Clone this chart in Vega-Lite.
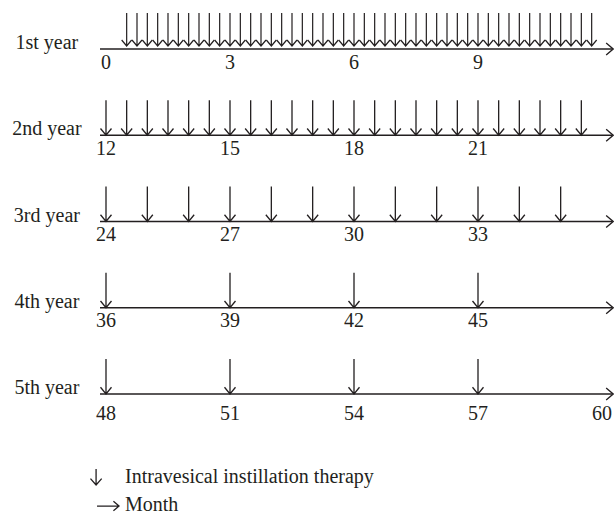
{
  "$schema": "https://vega.github.io/schema/vega-lite/v6.json",
  "width": 614,
  "height": 518,
  "autosize": "none",
  "padding": 0,
  "background": "white",
  "config": {"view": {"stroke": null}, "text": {"font": "Liberation Serif", "fontSize": 20, "color": "#231f20"}},
  "datasets": {
    "rows": [
      {"row": 1, "name": "1st year"},
      {"row": 2, "name": "2nd year"},
      {"row": 3, "name": "3rd year"},
      {"row": 4, "name": "4th year"},
      {"row": 5, "name": "5th year"}
    ],
    "arrows": [
      {"row": 1, "m": 0.5}, {"row": 1, "m": 0.75}, {"row": 1, "m": 1}, {"row": 1, "m": 1.25},
      {"row": 1, "m": 1.5}, {"row": 1, "m": 1.75}, {"row": 1, "m": 2}, {"row": 1, "m": 2.25},
      {"row": 1, "m": 2.5}, {"row": 1, "m": 2.75}, {"row": 1, "m": 3}, {"row": 1, "m": 3.25},
      {"row": 1, "m": 3.5}, {"row": 1, "m": 3.75}, {"row": 1, "m": 4}, {"row": 1, "m": 4.25},
      {"row": 1, "m": 4.5}, {"row": 1, "m": 4.75}, {"row": 1, "m": 5}, {"row": 1, "m": 5.25},
      {"row": 1, "m": 5.5}, {"row": 1, "m": 5.75}, {"row": 1, "m": 6}, {"row": 1, "m": 6.25},
      {"row": 1, "m": 6.5}, {"row": 1, "m": 6.75}, {"row": 1, "m": 7}, {"row": 1, "m": 7.25},
      {"row": 1, "m": 7.5}, {"row": 1, "m": 7.75}, {"row": 1, "m": 8}, {"row": 1, "m": 8.25},
      {"row": 1, "m": 8.5}, {"row": 1, "m": 8.75}, {"row": 1, "m": 9}, {"row": 1, "m": 9.25},
      {"row": 1, "m": 9.5}, {"row": 1, "m": 9.75}, {"row": 1, "m": 10}, {"row": 1, "m": 10.25},
      {"row": 1, "m": 10.5}, {"row": 1, "m": 10.75}, {"row": 1, "m": 11}, {"row": 1, "m": 11.25},
      {"row": 1, "m": 11.5}, {"row": 1, "m": 11.75},
      {"row": 2, "m": 0}, {"row": 2, "m": 0.5}, {"row": 2, "m": 1}, {"row": 2, "m": 1.5},
      {"row": 2, "m": 2}, {"row": 2, "m": 2.5}, {"row": 2, "m": 3}, {"row": 2, "m": 3.5},
      {"row": 2, "m": 4}, {"row": 2, "m": 4.5}, {"row": 2, "m": 5}, {"row": 2, "m": 5.5},
      {"row": 2, "m": 6}, {"row": 2, "m": 6.5}, {"row": 2, "m": 7}, {"row": 2, "m": 7.5},
      {"row": 2, "m": 8}, {"row": 2, "m": 8.5}, {"row": 2, "m": 9}, {"row": 2, "m": 9.5},
      {"row": 2, "m": 10}, {"row": 2, "m": 10.5}, {"row": 2, "m": 11}, {"row": 2, "m": 11.5},
      {"row": 3, "m": 0}, {"row": 3, "m": 1}, {"row": 3, "m": 2}, {"row": 3, "m": 3},
      {"row": 3, "m": 4}, {"row": 3, "m": 5}, {"row": 3, "m": 6}, {"row": 3, "m": 7},
      {"row": 3, "m": 8}, {"row": 3, "m": 9}, {"row": 3, "m": 10}, {"row": 3, "m": 11},
      {"row": 4, "m": 0}, {"row": 4, "m": 3}, {"row": 4, "m": 6}, {"row": 4, "m": 9},
      {"row": 5, "m": 0}, {"row": 5, "m": 3}, {"row": 5, "m": 6}, {"row": 5, "m": 9}
    ],
    "ticks": [
      {"row": 1, "m": 0, "label": "0"}, {"row": 1, "m": 3, "label": "3"}, {"row": 1, "m": 6, "label": "6"}, {"row": 1, "m": 9, "label": "9"},
      {"row": 2, "m": 0, "label": "12"}, {"row": 2, "m": 3, "label": "15"}, {"row": 2, "m": 6, "label": "18"}, {"row": 2, "m": 9, "label": "21"},
      {"row": 3, "m": 0, "label": "24"}, {"row": 3, "m": 3, "label": "27"}, {"row": 3, "m": 6, "label": "30"}, {"row": 3, "m": 9, "label": "33"},
      {"row": 4, "m": 0, "label": "36"}, {"row": 4, "m": 3, "label": "39"}, {"row": 4, "m": 6, "label": "42"}, {"row": 4, "m": 9, "label": "45"},
      {"row": 5, "m": 0, "label": "48"}, {"row": 5, "m": 3, "label": "51"}, {"row": 5, "m": 6, "label": "54"}, {"row": 5, "m": 9, "label": "57"}, {"row": 5, "m": 12, "label": "60"}
    ],
    "legend": [
      {"item": "Intravesical instillation therapy", "kind": "arrow"},
      {"item": "Month", "kind": "month"}
    ]
  },
  "layer": [
    {
      "data": {"name": "rows"},
      "mark": {"type": "rule", "stroke": "#231f20", "strokeWidth": 1.3},
      "encoding": {
        "x": {"datum": -0.145, "type": "quantitative", "scale": {"domain": [0, 12], "range": [106, 602], "nice": false, "zero": false}, "axis": null},
        "x2": {"datum": 12.25},
        "y": {"field": "row", "type": "quantitative", "scale": {"domain": [1, 5], "range": [49, 394], "nice": false, "zero": false}, "axis": null}
      }
    },
    {
      "data": {"name": "rows"},
      "mark": {"type": "point", "shape": "M-1.4,-1.2L0,0L-1.4,1.2", "size": 100, "filled": false, "stroke": "#231f20", "strokeWidth": 1.3, "opacity": 1},
      "encoding": {
        "x": {"datum": 12.27, "type": "quantitative", "scale": {"domain": [0, 12], "range": [106, 602], "nice": false, "zero": false}, "axis": null},
        "y": {"field": "row", "type": "quantitative", "scale": {"domain": [1, 5], "range": [49, 394], "nice": false, "zero": false}, "axis": null}
      }
    },
    {
      "data": {"name": "arrows"},
      "transform": [{"filter": "datum.row > 1"}],
      "mark": {"type": "point", "shape": "M0,-7L0,0M-1.1,-1.35L0,0L1.1,-1.35", "size": 100, "filled": false, "stroke": "#231f20", "strokeWidth": 1.3, "opacity": 1},
      "encoding": {
        "x": {"field": "m", "type": "quantitative", "scale": {"domain": [0, 12], "range": [106, 602], "nice": false, "zero": false}, "axis": null},
        "y": {"field": "row", "type": "quantitative", "scale": {"domain": [1, 5], "range": [49, 394], "nice": false, "zero": false}, "axis": null}
      }
    },
    {
      "data": {"name": "arrows"},
      "transform": [{"filter": "datum.row == 1"}],
      "mark": {"type": "point", "shape": "M0,-6.6L0,0M-1,-1.2L0,0L1,-1.2", "size": 100, "filled": false, "stroke": "#231f20", "strokeWidth": 1.2, "opacity": 1},
      "encoding": {
        "x": {"field": "m", "type": "quantitative", "scale": {"domain": [0, 12], "range": [106, 602], "nice": false, "zero": false}, "axis": null},
        "y": {"field": "row", "type": "quantitative", "scale": {"domain": [1, 5], "range": [49, 394], "nice": false, "zero": false}, "axis": null},
        "yOffset": {"value": -3}
      }
    },
    {
      "data": {"name": "ticks"},
      "transform": [{"filter": "datum.row < 5"}],
      "mark": {"type": "text", "baseline": "alphabetic", "align": "center", "dy": 19.5},
      "encoding": {
        "x": {"field": "m", "type": "quantitative", "scale": {"domain": [0, 12], "range": [106, 602], "nice": false, "zero": false}, "axis": null},
        "y": {"field": "row", "type": "quantitative", "scale": {"domain": [1, 5], "range": [49, 394], "nice": false, "zero": false}, "axis": null},
        "text": {"field": "label"}
      }
    },
    {
      "data": {"name": "ticks"},
      "transform": [{"filter": "datum.row == 5"}],
      "mark": {"type": "text", "baseline": "alphabetic", "align": "center", "dy": 26},
      "encoding": {
        "x": {"field": "m", "type": "quantitative", "scale": {"domain": [0, 12], "range": [106, 602], "nice": false, "zero": false}, "axis": null},
        "y": {"field": "row", "type": "quantitative", "scale": {"domain": [1, 5], "range": [49, 394], "nice": false, "zero": false}, "axis": null},
        "text": {"field": "label"}
      }
    },
    {
      "data": {"name": "rows"},
      "mark": {"type": "text", "baseline": "alphabetic", "align": "center"},
      "encoding": {
        "x": {"datum": -1.43, "type": "quantitative", "scale": {"domain": [0, 12], "range": [106, 602], "nice": false, "zero": false}, "axis": null},
        "y": {"field": "row", "type": "quantitative", "scale": {"domain": [1, 5], "range": [49, 394], "nice": false, "zero": false}, "axis": null},
        "text": {"field": "name"}
      }
    },
    {
      "data": {"name": "legend"},
      "transform": [{"filter": "datum.kind == 'arrow'"}],
      "layer": [
        {
          "mark": {"type": "point", "shape": "M0,-4L0,0M-1.4,-1.6L0,0L1.4,-1.6", "size": 64, "filled": false, "stroke": "#231f20", "strokeWidth": 1.3, "opacity": 1},
          "encoding": {
            "x": {"datum": -0.24, "type": "quantitative", "scale": {"domain": [0, 12], "range": [106, 602], "nice": false, "zero": false}, "axis": null},
            "y": {"datum": 6.055, "type": "quantitative", "scale": {"domain": [1, 5], "range": [49, 394], "nice": false, "zero": false}, "axis": null}
          }
        },
        {
          "mark": {"type": "text", "baseline": "alphabetic", "align": "left"},
          "encoding": {
            "x": {"datum": 0.46, "type": "quantitative", "scale": {"domain": [0, 12], "range": [106, 602], "nice": false, "zero": false}, "axis": null},
            "y": {"datum": 6.032, "type": "quantitative", "scale": {"domain": [1, 5], "range": [49, 394], "nice": false, "zero": false}, "axis": null},
            "text": {"field": "item"}
          }
        }
      ]
    },
    {
      "data": {"name": "legend"},
      "transform": [{"filter": "datum.kind == 'month'"}],
      "layer": [
        {
          "mark": {"type": "point", "shape": "M-5.5,0L0,0M-1.4,-1.2L0,0L-1.4,1.2", "size": 64, "filled": false, "stroke": "#231f20", "strokeWidth": 1.3, "opacity": 1},
          "encoding": {
            "x": {"datum": 0.315, "type": "quantitative", "scale": {"domain": [0, 12], "range": [106, 602], "nice": false, "zero": false}, "axis": null},
            "y": {"datum": 6.299, "type": "quantitative", "scale": {"domain": [1, 5], "range": [49, 394], "nice": false, "zero": false}, "axis": null}
          }
        },
        {
          "mark": {"type": "text", "baseline": "alphabetic", "align": "left"},
          "encoding": {
            "x": {"datum": 0.46, "type": "quantitative", "scale": {"domain": [0, 12], "range": [106, 602], "nice": false, "zero": false}, "axis": null},
            "y": {"datum": 6.357, "type": "quantitative", "scale": {"domain": [1, 5], "range": [49, 394], "nice": false, "zero": false}, "axis": null},
            "text": {"field": "item"}
          }
        }
      ]
    }
  ]
}
